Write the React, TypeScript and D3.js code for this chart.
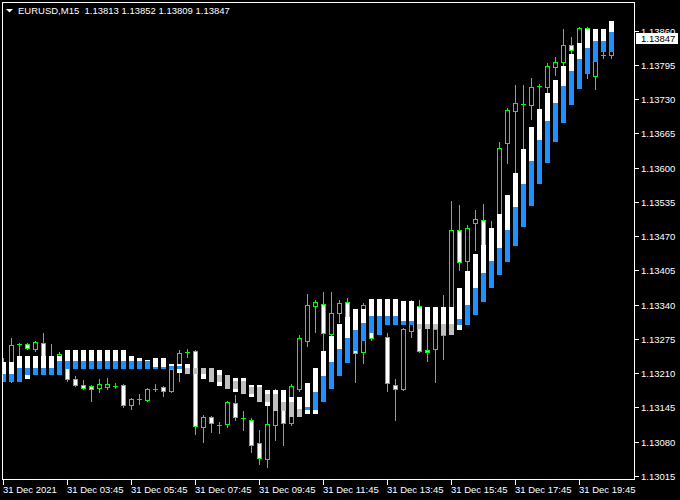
import React from 'react';
import * as d3 from 'd3';

const symbolTitle = 'EURUSD,M15  1.13813 1.13852 1.13809 1.13847';
const lastPrice = 1.13847;

const xLabels = ['31 Dec 2021', '31 Dec 03:45', '31 Dec 05:45', '31 Dec 07:45', '31 Dec 09:45', '31 Dec 11:45', '31 Dec 13:45', '31 Dec 15:45', '31 Dec 17:45', '31 Dec 19:45'];
const xLabelBars = [0, 8, 16, 24, 32, 40, 48, 56, 64, 72];

const yTicks = [1.13015, 1.1308, 1.13145, 1.1321, 1.13275, 1.1334, 1.13405, 1.1347, 1.13535, 1.136, 1.13665, 1.1373, 1.13795, 1.1386];

const open = [1.13209, 1.13216, 1.13265, 1.13265, 1.13256, 1.13267, 1.13241, 1.13241, 1.13248, 1.13199, 1.13188, 1.13186, 1.13182, 1.13184, 1.13186, 1.13188, 1.1315, 1.13161, 1.13159, 1.1318, 1.13184, 1.13176, 1.13218, 1.1325, 1.13252, 1.13108, 1.13127, 1.13112, 1.13114, 1.13153, 1.13125, 1.13121, 1.13078, 1.13047, 1.13112, 1.13159, 1.13116, 1.1318, 1.13271, 1.13338, 1.13341, 1.13284, 1.13324, 1.13345, 1.13292, 1.1325, 1.13343, 1.13311, 1.13279, 1.13188, 1.1318, 1.1329, 1.13338, 1.13254, 1.13256, 1.13283, 1.13326, 1.13482, 1.13423, 1.13495, 1.13501, 1.1344, 1.13467, 1.13647, 1.13708, 1.13721, 1.13719, 1.13755, 1.13753, 1.13791, 1.13801, 1.13833, 1.13823, 1.13865, 1.13774, 1.13813, 1.13813];
const high = [1.13239, 1.13277, 1.13267, 1.13267, 1.13271, 1.13286, 1.13265, 1.1325, 1.13254, 1.13205, 1.13197, 1.13188, 1.13199, 1.13201, 1.13192, 1.1319, 1.13163, 1.13171, 1.13182, 1.1319, 1.13186, 1.1322, 1.13254, 1.13256, 1.13254, 1.13131, 1.13129, 1.13117, 1.13157, 1.13169, 1.13138, 1.13125, 1.13102, 1.13161, 1.1318, 1.13161, 1.1319, 1.13283, 1.1336, 1.13349, 1.13364, 1.13364, 1.13349, 1.13353, 1.13302, 1.13343, 1.13349, 1.13349, 1.13286, 1.13199, 1.13296, 1.13349, 1.13349, 1.13294, 1.13294, 1.13358, 1.13537, 1.13529, 1.13491, 1.1352, 1.13531, 1.13499, 1.13649, 1.13713, 1.13757, 1.13757, 1.1377, 1.13759, 1.13799, 1.1381, 1.13863, 1.13848, 1.13867, 1.13867, 1.13806, 1.1382, 1.13852];
const low = [1.13197, 1.13193, 1.13239, 1.13256, 1.13252, 1.13235, 1.13235, 1.13239, 1.13195, 1.13186, 1.1318, 1.13157, 1.13174, 1.1318, 1.13182, 1.13146, 1.13142, 1.13152, 1.13157, 1.13176, 1.13167, 1.13174, 1.13195, 1.13241, 1.13095, 1.1308, 1.13098, 1.13097, 1.13108, 1.13121, 1.13102, 1.13061, 1.13038, 1.13032, 1.13083, 1.13074, 1.13112, 1.13176, 1.13262, 1.13288, 1.13254, 1.13281, 1.13307, 1.13273, 1.13193, 1.13229, 1.13273, 1.13292, 1.13176, 1.13121, 1.13178, 1.13279, 1.1325, 1.13233, 1.13193, 1.13237, 1.13322, 1.13406, 1.13404, 1.13444, 1.13433, 1.13436, 1.13463, 1.13609, 1.1359, 1.13635, 1.13692, 1.13711, 1.13742, 1.13776, 1.13795, 1.13816, 1.13814, 1.1377, 1.13749, 1.13808, 1.13809];
const close = [1.13226, 1.13264, 1.13265, 1.13258, 1.13269, 1.13239, 1.13241, 1.13246, 1.13199, 1.13188, 1.13182, 1.1318, 1.1319, 1.1319, 1.13186, 1.1315, 1.13161, 1.13161, 1.1318, 1.1318, 1.13176, 1.13218, 1.13248, 1.1325, 1.1311, 1.13127, 1.13116, 1.13112, 1.13155, 1.13127, 1.13125, 1.13074, 1.13049, 1.13114, 1.13178, 1.13116, 1.13186, 1.13277, 1.13339, 1.13345, 1.13286, 1.13324, 1.13343, 1.13277, 1.13248, 1.13339, 1.13277, 1.13326, 1.13192, 1.1318, 1.13294, 1.13339, 1.13252, 1.1325, 1.13294, 1.1333, 1.13482, 1.13421, 1.13486, 1.13503, 1.13436, 1.13472, 1.13637, 1.1371, 1.13723, 1.13721, 1.13753, 1.13755, 1.13793, 1.13801, 1.13833, 1.13823, 1.13865, 1.1382, 1.13803, 1.13813, 1.13847];

const haHigh = [1.13231, 1.13231, 1.13243, 1.13243, 1.13243, 1.13243, 1.13243, 1.13243, 1.13254, 1.13254, 1.13254, 1.13254, 1.13254, 1.13254, 1.13254, 1.13254, 1.13243, 1.13239, 1.13235, 1.13239, 1.13239, 1.13228, 1.13228, 1.13228, 1.1322, 1.1322, 1.1322, 1.13216, 1.13207, 1.13201, 1.13201, 1.13188, 1.13188, 1.13178, 1.13178, 1.13178, 1.13165, 1.13165, 1.13192, 1.1322, 1.13252, 1.13281, 1.13303, 1.13317, 1.13332, 1.13332, 1.13351, 1.13351, 1.13351, 1.13351, 1.13347, 1.13347, 1.13336, 1.13336, 1.13336, 1.13336, 1.13336, 1.13372, 1.13404, 1.13436, 1.13453, 1.13486, 1.13512, 1.13548, 1.1359, 1.13635, 1.13677, 1.13711, 1.13742, 1.13766, 1.13793, 1.13816, 1.13837, 1.13863, 1.13863, 1.13863, 1.13878];
const haLow = [1.13193, 1.13193, 1.13193, 1.13199, 1.13207, 1.13207, 1.13207, 1.13207, 1.13218, 1.13218, 1.13218, 1.13218, 1.13218, 1.13218, 1.13218, 1.13218, 1.13218, 1.13218, 1.13218, 1.13218, 1.13218, 1.13218, 1.1321, 1.13209, 1.13209, 1.13199, 1.13193, 1.13186, 1.1318, 1.13174, 1.13171, 1.13165, 1.13155, 1.13148, 1.13138, 1.13138, 1.13127, 1.13127, 1.13133, 1.13133, 1.13155, 1.1318, 1.13205, 1.13229, 1.13252, 1.13271, 1.13286, 1.13283, 1.13302, 1.13302, 1.13302, 1.13302, 1.13294, 1.13294, 1.13294, 1.13283, 1.13283, 1.13292, 1.13302, 1.13321, 1.13345, 1.13372, 1.13396, 1.13421, 1.13451, 1.13487, 1.13527, 1.13569, 1.13609, 1.13649, 1.13685, 1.13719, 1.13749, 1.13778, 1.13801, 1.1382, 1.1382];
const haOpen = [1.13193, 1.13193, 1.13193, 1.13207, 1.13207, 1.13207, 1.13207, 1.13207, 1.13218, 1.13218, 1.13218, 1.13218, 1.13218, 1.13218, 1.13218, 1.13218, 1.13218, 1.13218, 1.13218, 1.13218, 1.13218, 1.13218, 1.13218, 1.1322, 1.1322, 1.1322, 1.1322, 1.13207, 1.13207, 1.13195, 1.13195, 1.13184, 1.13184, 1.13171, 1.13171, 1.13155, 1.13155, 1.13142, 1.1314, 1.1314, 1.13155, 1.1318, 1.13205, 1.13229, 1.13252, 1.13271, 1.13286, 1.13283, 1.13302, 1.13302, 1.13302, 1.13302, 1.13303, 1.13303, 1.13303, 1.13303, 1.13303, 1.13302, 1.13302, 1.13321, 1.13345, 1.13372, 1.13396, 1.13421, 1.13451, 1.13487, 1.13527, 1.13569, 1.13609, 1.13649, 1.13685, 1.13719, 1.13749, 1.13778, 1.13801, 1.1382, 1.1382];
const haClose = [1.13209, 1.13209, 1.1322, 1.1322, 1.1322, 1.1322, 1.1322, 1.13233, 1.13233, 1.13233, 1.13233, 1.13233, 1.13233, 1.13233, 1.13233, 1.13233, 1.13233, 1.13233, 1.13233, 1.13222, 1.13222, 1.13224, 1.13224, 1.13209, 1.13209, 1.13209, 1.13193, 1.13193, 1.1318, 1.1318, 1.13171, 1.13171, 1.13155, 1.13155, 1.13138, 1.13138, 1.13127, 1.13127, 1.13146, 1.13174, 1.13205, 1.13231, 1.13256, 1.13277, 1.13292, 1.13305, 1.13319, 1.13319, 1.13319, 1.13319, 1.13309, 1.13309, 1.13294, 1.13294, 1.13294, 1.13283, 1.13283, 1.13313, 1.13339, 1.13372, 1.134, 1.13423, 1.13448, 1.13482, 1.13525, 1.13569, 1.13613, 1.13653, 1.13689, 1.13723, 1.13755, 1.13784, 1.13806, 1.13827, 1.1384, 1.1384, 1.13857];

const GREEN = '#00ff00';
const BLUE = '#1e90ff';
const GRAY = '#c0c0c0';
const FONT = '"Liberation Sans", Arial, sans-serif';

export default function App() {
  const x = d3.scaleLinear().domain([0, 76]).range([3, 611]);
  const y = d3.scaleLinear().domain([1.13015, 1.1386]).range([476, 30.7]);
  const py = (v: number) => Math.round(y(v));

  const candles = open.map((o, i) => {
    const cx = Math.round(x(i));
    const c = close[i];
    const yh = py(high[i]);
    const yl = py(low[i]);
    const top = py(Math.max(o, c));
    const bot = py(Math.min(o, c));
    const bull = c >= o;
    return (
      <g key={'c' + i}>
        <line x1={cx + 0.5} x2={cx + 0.5} y1={yh} y2={yl + 1} stroke={GREEN} strokeWidth={1} />
        {top === bot ? (
          <line x1={cx - 2} x2={cx + 3} y1={top + 0.5} y2={top + 0.5} stroke={GREEN} strokeWidth={1} />
        ) : (
          <rect x={cx - 1.5} y={top + 0.5} width={4} height={bot - top} fill={bull ? '#000' : '#fff'} stroke={GREEN} strokeWidth={1} />
        )}
      </g>
    );
  });

  const ha = haHigh.map((h, i) => {
    const cx = Math.round(x(i));
    const wt = py(h);
    const wb = py(haLow[i]);
    const o = haOpen[i];
    const c = haClose[i];
    const ct = py(Math.max(o, c));
    const cb = py(Math.min(o, c));
    return (
      <g key={'h' + i}>
        <rect x={cx - 2} y={wt} width={5} height={Math.max(1, wb - wt)} fill="#fff" />
        <rect x={cx - 2} y={ct} width={5} height={Math.max(1, cb - ct)} fill={c >= o ? BLUE : GRAY} />
      </g>
    );
  });

  const lastY = y(lastPrice);

  return (
    <svg width={680} height={500} style={{ position: 'absolute', left: 0, top: 0, display: 'block' }} shapeRendering="crispEdges">
      <rect x={0} y={0} width={680} height={500} fill="#000" />
      <defs>
        <clipPath id="plot">
          <rect x={3} y={3} width={631} height={476} />
        </clipPath>
      </defs>
      <g clipPath="url(#plot)">
        {candles}
        {ha}
      </g>
      <rect x={2.5} y={2.5} width={632} height={477} fill="none" stroke="#fff" strokeWidth={1} />
      {yTicks.map((v) => {
        const yy = py(v);
        return (
          <g key={'y' + v}>
            <line x1={635} x2={639} y1={yy + 0.5} y2={yy + 0.5} stroke="#fff" />
            <text x={641} y={yy + 3.5} fill="#fff" fontFamily={FONT} fontSize={9.5}>{v.toFixed(5)}</text>
          </g>
        );
      })}
      <rect x={636} y={Math.round(lastY) - 5} width={42} height={11} fill="#fff" />
      <text x={641} y={Math.round(lastY) + 3.5} fill="#000" fontFamily={FONT} fontSize={9.5}>{lastPrice.toFixed(5)}</text>
      {xLabelBars.map((b, i) => {
        const cx = Math.round(x(b));
        return (
          <g key={'x' + b}>
            <line x1={cx + 0.5} x2={cx + 0.5} y1={480} y2={485} stroke="#fff" />
            <text x={cx} y={493} fill="#fff" fontFamily={FONT} fontSize={9.5}>{xLabels[i]}</text>
          </g>
        );
      })}
      <path d="M6,9 L13,9 L9.5,12.5 Z" fill="#fff" shapeRendering="auto" />
      <text x={18} y={14} fill="#fff" fontFamily={FONT} fontSize={9.5} style={{ whiteSpace: 'pre' }}>{symbolTitle}</text>
    </svg>
  );
}
